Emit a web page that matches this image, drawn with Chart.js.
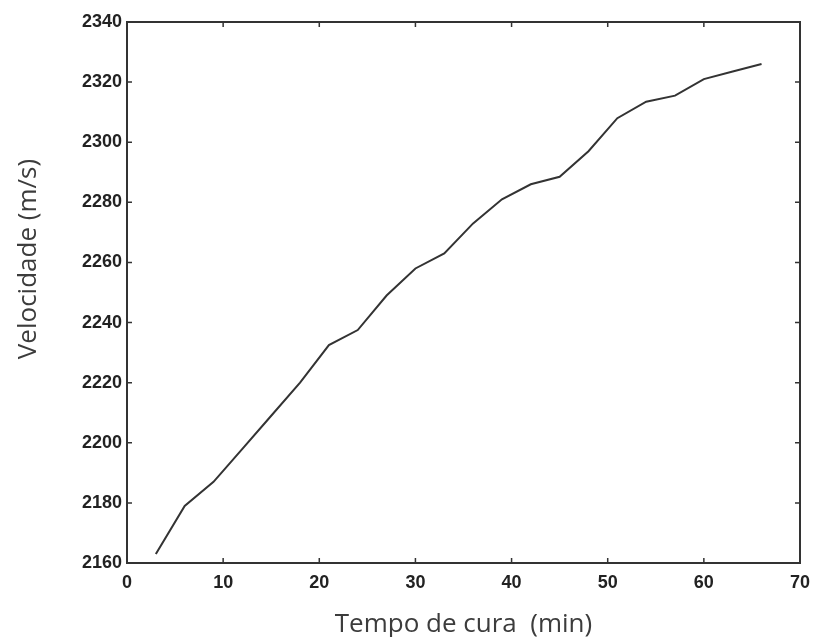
<!DOCTYPE html>
<html>
<head>
<meta charset="utf-8">
<script src="https://cdn.jsdelivr.net/npm/chart.js@4"></script>
<style>
  html, body { margin: 0; padding: 0; background: #fff; }
  #wrap { width: 816px; height: 637px; }
</style>
</head>
<body>
<div id="wrap"><canvas id="chart"></canvas></div>
<script>
// tempo de cura (min) e velocidade (m/s)
const tempo = [3, 6, 9, 12, 15, 18, 21, 24, 27, 30, 33, 36, 39, 42, 45, 48, 51, 54, 57, 60, 63, 66];
const velocidade = [2163, 2179, 2187, 2198, 2209, 2220, 2232.5, 2237.5, 2249, 2258, 2263, 2273, 2281, 2286, 2288.5, 2297, 2308, 2313.5, 2315.5, 2321, 2323.5, 2326];
const xTicks = [0, 10, 20, 30, 40, 50, 60, 70];
const yTicks = [2160, 2180, 2200, 2220, 2240, 2260, 2280, 2300, 2320, 2340];

const ink = '#333';
const titleInk = '#3c3c3c';
const tickFont = { family: 'Liberation Sans', size: 18, weight: 'bold' };

// moldura com marcas para dentro nos quatro lados
const framePlugin = {
    id: 'frame',
    afterDraw(chart) {
        const { ctx, chartArea: a, scales } = chart;
        const len = 5;
        ctx.save();
        ctx.strokeStyle = ink;
        ctx.lineWidth = 1.5;
        xTicks.forEach(v => {
            const x = scales.x.getPixelForValue(v);
            ctx.beginPath();
            ctx.moveTo(x, a.bottom); ctx.lineTo(x, a.bottom - len);
            ctx.moveTo(x, a.top); ctx.lineTo(x, a.top + len);
            ctx.stroke();
        });
        yTicks.forEach(v => {
            const y = scales.y.getPixelForValue(v);
            ctx.beginPath();
            ctx.moveTo(a.left, y); ctx.lineTo(a.left + len, y);
            ctx.moveTo(a.right, y); ctx.lineTo(a.right - len, y);
            ctx.stroke();
        });
        ctx.lineWidth = 2;
        ctx.strokeRect(a.left, a.top, a.right - a.left, a.bottom - a.top);

        // título do eixo y (não centrado no original)
        ctx.fillStyle = titleInk;
        ctx.font = '26px "Open Sans"';
        ctx.textAlign = 'center';
        ctx.textBaseline = 'middle';
        ctx.translate(29, 259);
        ctx.rotate(-Math.PI / 2);
        ctx.fillText('Velocidade (m/s)', 0, 0);
        ctx.restore();
    }
};

new Chart(document.getElementById('chart'), {
    type: 'line',
    data: {
        datasets: [{
            data: tempo.map((t, i) => ({ x: t, y: velocidade[i] })),
            borderColor: ink,
            borderWidth: 2,
            pointRadius: 0,
            tension: 0,
            fill: false
        }]
    },
    options: {
        responsive: true,
        maintainAspectRatio: false,
        animation: false,
        layout: { padding: { left: 0, top: 22, right: 16, bottom: 0 } },
        plugins: { legend: { display: false }, tooltip: { enabled: false } },
        scales: {
            x: {
                type: 'linear',
                min: 0, max: 70,
                afterBuildTicks: s => { s.ticks = xTicks.map(v => ({ value: v })); },
                afterFit: s => { s.height = 74; s.paddingLeft = 0; s.paddingRight = 0; },
                grid: { display: false, drawTicks: false },
                border: { display: false },
                ticks: { color: '#222', font: tickFont, padding: 9, maxRotation: 0, callback: v => String(v) },
                title: { display: true, text: 'Tempo de cura  (min)', color: titleInk, font: { family: 'Open Sans', size: 26 }, padding: { top: 0, bottom: -3 } }
            },
            y: {
                min: 2160, max: 2340,
                afterBuildTicks: s => { s.ticks = yTicks.map(v => ({ value: v })); },
                afterFit: s => { s.width = 127; s.paddingTop = 0; s.paddingBottom = 0; },
                grid: { display: false, drawTicks: false },
                border: { display: false },
                ticks: { color: '#222', font: tickFont, padding: 5, callback: v => String(v) }
            }
        }
    },
    plugins: [framePlugin]
});
</script>
</body>
</html>
